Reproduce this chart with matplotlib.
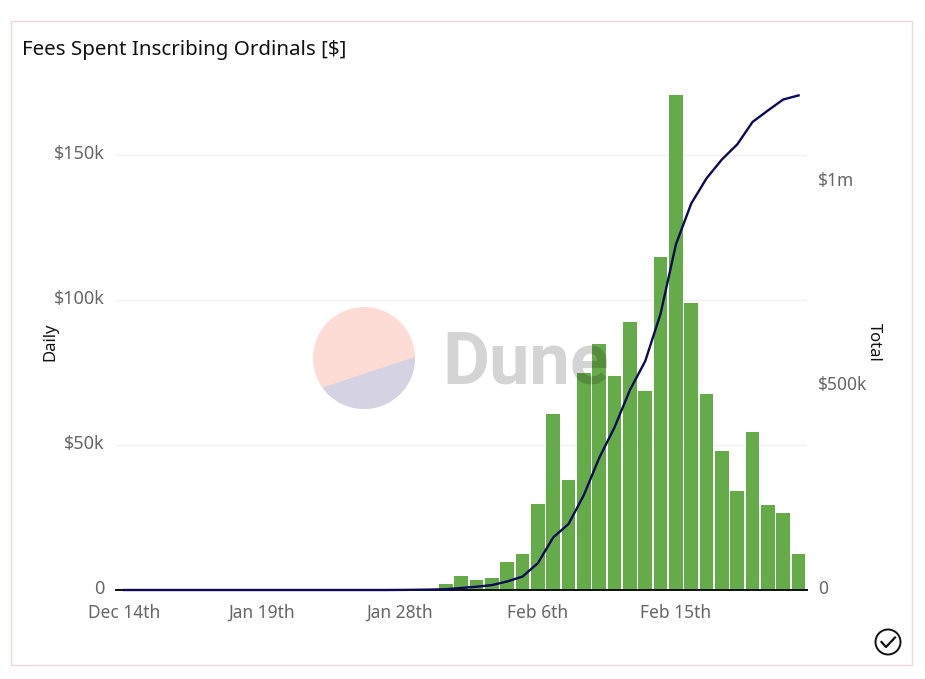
import numpy as np
import matplotlib
matplotlib.use('Agg')
import matplotlib.pyplot as plt
from matplotlib.patches import Circle, Polygon, Rectangle
from matplotlib.transforms import ScaledTranslation

# fee values, one entry per bar position
daily = [0, 0, 0, 0, 0, 0, 0, 0, 0, 0,
         0, 0, 0, 0, 0, 0, 0, 0, 100, 200,
         500, 2000, 4800, 3600, 4100, 9700, 12400, 29600, 60700, 38000,
         75000, 84800, 73800, 92400, 68600, 114800, 170700, 99000, 67600, 47900,
         34000, 54500, 29300, 26500, 12400]
total = [0, 0, 0, 0, 0, 0, 0, 0, 0, 0,
         0, 0, 0, 0, 0, 0, 0, 0, 200, 500,
         1000, 2000, 5000, 8000, 12000, 21000, 33000, 66000, 129000, 162000,
         233000, 324000, 399000, 490000, 561000, 677000, 847000, 947000, 1009000, 1055000,
         1092000, 1147000, 1175000, 1202000, 1212000]

date_labels = ['Dec 14th', 'Jan 19th', 'Jan 28th', 'Feb 6th', 'Feb 15th']
daily_ticks = [0, 50000, 100000, 150000]
daily_tick_labels = ['0', '$50k', '$100k', '$150k']
total_ticks = [0, 500000, 1000000]
total_tick_labels = ['0', '$500k', '$1m']

W, H = 925, 679
FONT = 'Noto Sans'
GREY = '#666666'

plt.rcParams['font.family'] = FONT

def fx(px):
    return px / W

def fy(py):
    return 1 - py / H

fig = plt.figure(figsize=(W / 100, H / 100), dpi=100, facecolor='white')

# card border
fig.add_artist(Rectangle((fx(11), fy(665)), 901 / W, 644 / H, transform=fig.transFigure,
                         fill=False, edgecolor='#f4d6da', linewidth=1.0))

ax = fig.add_axes([fx(116), fy(590), 691 / W, 495 / H])
ax2 = ax.twinx()

x = np.arange(len(daily))
ax.bar(x, daily, width=0.89, color='#66ab4a', zorder=2)
ax.set_xlim(-0.52, 44.55)
ax.set_ylim(0, 170700)
ax.set_yticks(daily_ticks)
ax.set_yticklabels(daily_tick_labels)
ax.set_xticks(x[::9])
ax.set_xticklabels(date_labels)
ax.grid(axis='y', color='#f2f2f2', linewidth=1, zorder=0)
ax.set_axisbelow(True)
ax.tick_params(axis='y', length=0, pad=8, labelsize=13, labelcolor=GREY)
ax.tick_params(axis='x', length=0, pad=10, labelsize=12.5, labelcolor=GREY)

ax2.plot(x, total, color='#0b0b55', linewidth=1.7, zorder=3, solid_joinstyle='round', clip_on=False)
ax2.set_ylim(0, 1213000)
ax2.set_yticks(total_ticks)
ax2.set_yticklabels(total_tick_labels)
ax2.tick_params(axis='y', length=0, pad=8, labelsize=12.5, labelcolor=GREY)

# the labels sit a little above their gridlines
lift = ScaledTranslation(0, 3 / 100, fig.dpi_scale_trans)
for lab in ax.get_yticklabels() + ax2.get_yticklabels():
    lab.set_transform(lab.get_transform() + lift)

for a in (ax, ax2):
    for side in ('top', 'left', 'right'):
        a.spines[side].set_visible(False)
    a.spines['bottom'].set_color('#111111')
    a.spines['bottom'].set_linewidth(1.3)

fig.text(fx(22), fy(49.5), 'Fees Spent Inscribing Ordinals [$]', fontsize=14.8, color='#111111',
         va='center', ha='left', fontweight=500)
fig.text(fx(50), fy(342), 'Daily', rotation=90, fontsize=12, color='#111111',
         va='center', ha='center', fontweight=500)
fig.text(fx(874), fy(342), 'Total', rotation=270, fontsize=12, color='#111111',
         va='center', ha='center', fontweight=500)

# Dune watermark, sits above the bars
top = fig.add_axes([0, 0, 1, 1], facecolor='none', zorder=5)
top.set_xlim(0, W)
top.set_ylim(H, 0)
top.axis('off')
top.add_patch(Circle((364, 358), 51, color='#fddcd6', linewidth=0))
lower = Polygon([(300, 395), (430, 352), (430, 420), (300, 420)], color='#d5d3e3', linewidth=0)
top.add_patch(lower)
lower.set_clip_path(Circle((364, 358), 51, transform=top.transData))
top.text(442, 383, 'Dune', fontsize=52, fontweight='bold', family='Roboto',
         color='black', alpha=0.17, va='baseline', ha='left')

# check icon, bottom right
top.add_patch(Circle((888, 642), 12.5, fill=False, edgecolor='#111111', linewidth=1.4))
top.plot([881.5, 886, 895], [642, 647, 637.5], color='#111111', linewidth=1.6)

fig.savefig('out.png', dpi=100)
